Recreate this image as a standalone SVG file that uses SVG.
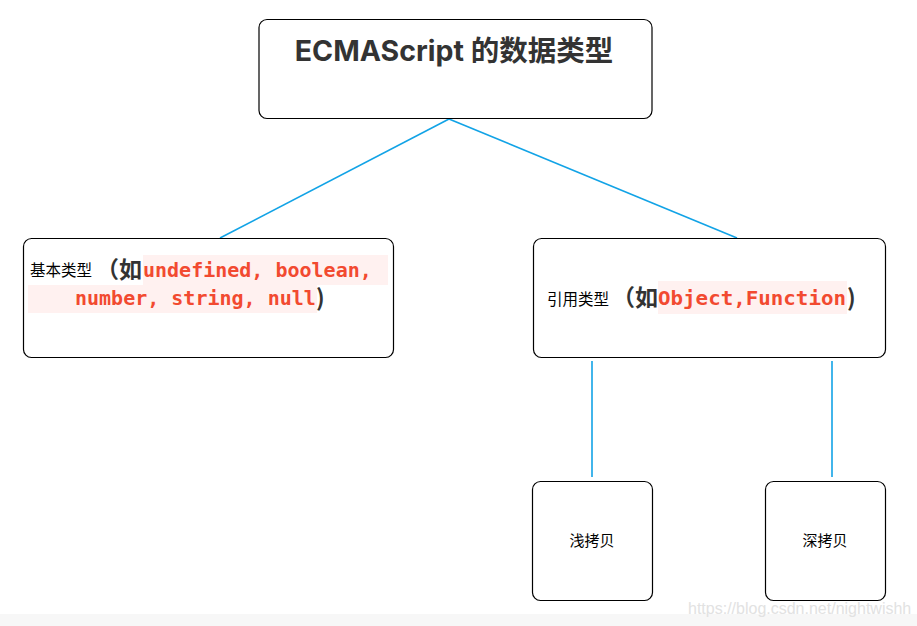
<svg xmlns="http://www.w3.org/2000/svg" width="917" height="626" viewBox="0 0 917 626">
<style>
.box{fill:#fff;stroke:#000;stroke-width:1.2}
.conn{stroke:#12a3e6;stroke-width:1.6;fill:none}
.cjk{font-family:"Noto Sans CJK SC","Noto Sans",sans-serif;fill:#000}
.big{font-family:"Noto Sans CJK SC","Noto Sans",sans-serif;font-weight:bold;fill:#333}
.code{font-family:"DejaVu Sans Mono","Liberation Mono",monospace;font-weight:bold;fill:#f24a30;font-size:20px}
.hl{fill:#fff1f0}
</style>
<rect width="917" height="626" fill="#fff"/>
<rect y="614" width="917" height="12" fill="#f7f7f7"/>
<g id="connectors">
<line class="conn" x1="449" y1="119" x2="220" y2="238"/>
<line class="conn" x1="449" y1="119" x2="737" y2="238"/>
<line class="conn" x1="592" y1="361" x2="592" y2="477"/>
<line class="conn" x1="832" y1="361" x2="832" y2="477"/>
</g>
<g id="root">
<rect class="box" x="259" y="19.5" width="393" height="99" rx="8"/>
<text x="454" y="61" text-anchor="middle" font-family="Inter,'Noto Sans CJK SC',sans-serif" font-weight="bold" font-size="28.5" fill="#333">ECMAScript 的数据类型</text>
</g>
<g id="primitive">
<rect class="box" x="23.5" y="238.5" width="370" height="119" rx="8"/>
<rect class="hl" x="143" y="255" width="245" height="30"/>
<rect class="hl" x="28" y="285" width="289" height="28"/>
<text class="cjk" x="30" y="276" font-size="15.5">基本类型</text>
<text class="big" x="96" y="278" font-size="23">（如</text>
<text class="code" x="143" y="277">undefined, boolean,</text>
<text class="code" x="75" y="305">number, string, null</text>
<text class="big" x="316" y="306" font-size="23">)</text>
</g>
<g id="reference">
<rect class="box" x="533.5" y="238.5" width="352" height="119" rx="8"/>
<rect class="hl" x="658" y="281" width="189" height="33"/>
<text class="cjk" x="547" y="305" font-size="15.5">引用类型</text>
<text class="big" x="612" y="306" font-size="23">（如</text>
<text class="code" x="658" y="305" font-size="21" textLength="188" lengthAdjust="spacingAndGlyphs">Object,Function</text>
<text class="big" x="847" y="306" font-size="23">)</text>
</g>
<g id="shallow">
<rect class="box" x="532.5" y="481.5" width="120" height="119" rx="8"/>
<text class="cjk" x="592" y="546" font-size="15" text-anchor="middle">浅拷贝</text>
</g>
<g id="deep">
<rect class="box" x="765.5" y="481.5" width="120" height="119" rx="8"/>
<text class="cjk" x="825" y="546" font-size="15" text-anchor="middle">深拷贝</text>
</g>
<text x="688" y="614" font-family="'Liberation Sans',Arial,sans-serif" font-size="16" fill="#e2e2e2">https://blog.csdn.net/nightwishh</text>
</svg>
